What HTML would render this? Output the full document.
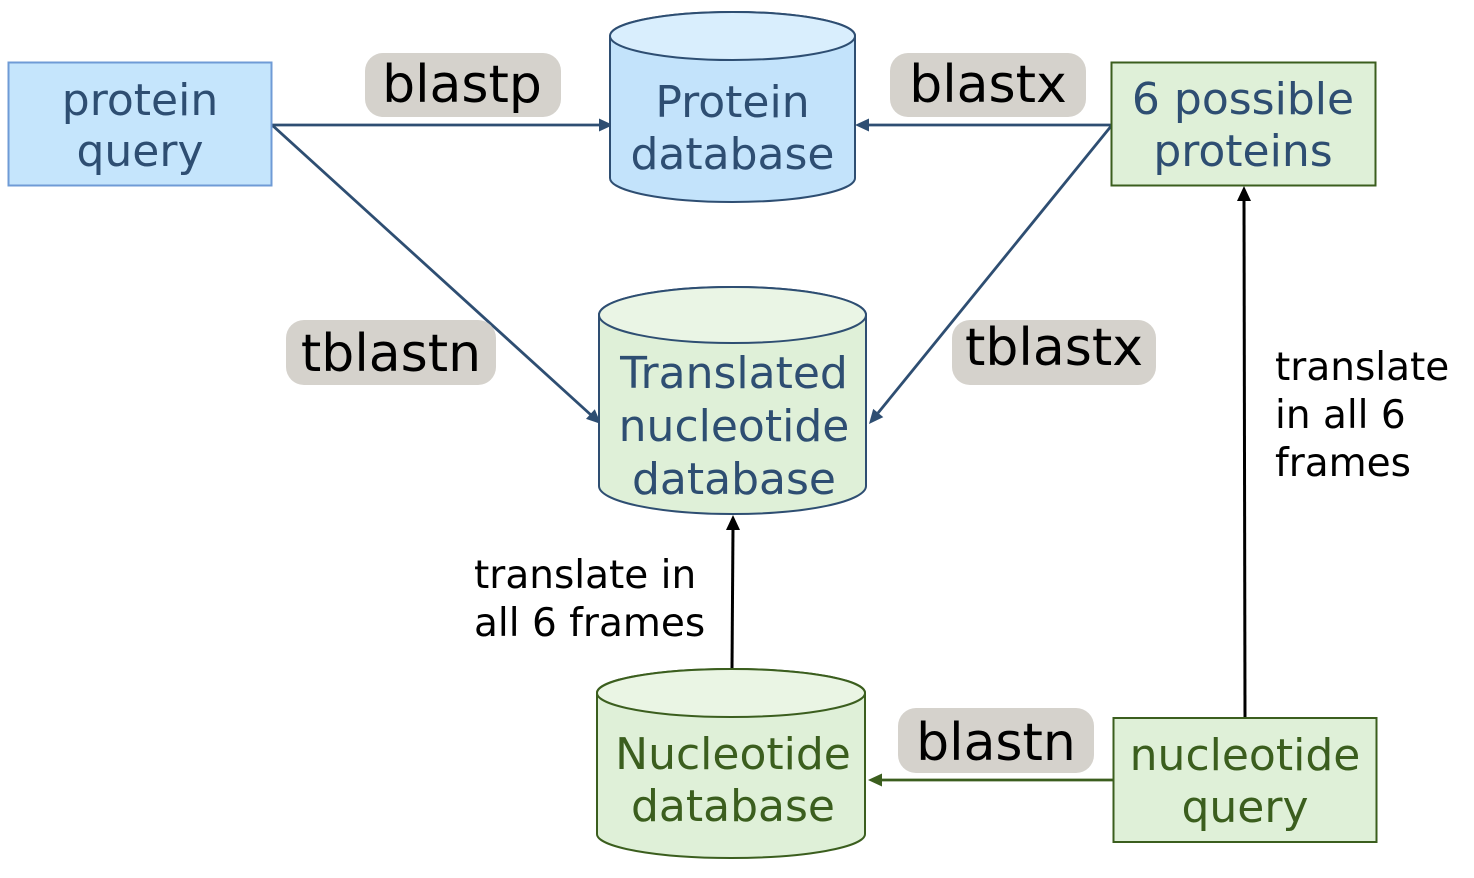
<!DOCTYPE html>
<html>
<head>
<meta charset="utf-8">
<style>
html,body{margin:0;padding:0;background:#ffffff;}
svg{display:block;}
.node{font-family:"DejaVu Sans","Liberation Sans",sans-serif;font-size:44px;text-anchor:middle;}
.lbl{font-family:"DejaVu Sans","Liberation Sans",sans-serif;font-size:52px;text-anchor:middle;fill:#000;}
.tr{font-family:"DejaVu Sans","Liberation Sans",sans-serif;font-size:39px;fill:#000;}
</style>
</head>
<body>
<svg width="1474" height="878" viewBox="0 0 1474 878" xmlns="http://www.w3.org/2000/svg">
  <rect x="0" y="0" width="1474" height="878" fill="#ffffff"/>

  <!-- connectors -->
  <line x1="272" y1="125" x2="600" y2="125" stroke="#2e4e72" stroke-width="2.8"/>
  <polygon points="613,125 599,118.5 599,131.5" fill="#2e4e72"/>
  <line x1="1112" y1="125" x2="868" y2="125" stroke="#2e4e72" stroke-width="2.8"/>
  <polygon points="855,125 869,118.5 869,131.5" fill="#2e4e72"/>
  <line x1="272" y1="125" x2="591" y2="415" stroke="#2e4e72" stroke-width="2.8"/>
  <polygon points="601,424 586,418.9 594.8,409.2" fill="#2e4e72"/>
  <line x1="1112" y1="125" x2="878" y2="413" stroke="#2e4e72" stroke-width="2.8"/>
  <polygon points="869,424 873.2,408.9 883.3,417.1" fill="#2e4e72"/>
  <line x1="732" y1="669" x2="733" y2="527" stroke="#000" stroke-width="3"/>
  <polygon points="733,515 726,530 740,530" fill="#000"/>
  <line x1="1245" y1="718" x2="1244" y2="199" stroke="#000" stroke-width="3"/>
  <polygon points="1244,186 1237,201 1251,201" fill="#000"/>
  <line x1="1113" y1="780" x2="881" y2="780" stroke="#3b5e1e" stroke-width="2.8"/>
  <polygon points="868,780 882,773.5 882,786.5" fill="#3b5e1e"/>

  <!-- protein query -->
  <rect x="8.5" y="62.5" width="263" height="123" fill="#c5e5fc" stroke="#6f9bd6" stroke-width="2"/>
  <text class="node" x="140" y="115" fill="#2e4e72">protein</text>
  <text class="node" x="140" y="166" fill="#2e4e72">query</text>

  <!-- Protein database cylinder -->
  <path d="M610,36 L610,178 A122.5,24 0 0 0 855,178 L855,36 A122.5,24 0 0 0 610,36 Z" fill="#c3e3fb" stroke="#2e4e72" stroke-width="2"/>
  <ellipse cx="732.5" cy="36" rx="122.5" ry="24" fill="#d9eefd" stroke="#2e4e72" stroke-width="2"/>
  <text class="node" x="732.5" y="117" fill="#2e4e72">Protein</text>
  <text class="node" x="732.5" y="169" fill="#2e4e72">database</text>

  <!-- 6 possible proteins -->
  <rect x="1111.5" y="62.5" width="264" height="123" fill="#dff0d8" stroke="#3b5e1e" stroke-width="2"/>
  <text class="node" x="1243" y="114" fill="#2e4e72">6 possible</text>
  <text class="node" x="1243" y="166" fill="#2e4e72">proteins</text>

  <!-- Translated nucleotide database -->
  <path d="M599,315 L599,486 A133.5,28 0 0 0 866,486 L866,315 A133.5,28 0 0 0 599,315 Z" fill="#dff0d8" stroke="#2e4e72" stroke-width="2"/>
  <ellipse cx="732.5" cy="315" rx="133.5" ry="28" fill="#eaf5e5" stroke="#2e4e72" stroke-width="2"/>
  <text class="node" x="734" y="388" fill="#2e4e72">Translated</text>
  <text class="node" x="734" y="441" fill="#2e4e72">nucleotide</text>
  <text class="node" x="734" y="494" fill="#2e4e72">database</text>

  <!-- Nucleotide database -->
  <path d="M597,693 L597,834 A134,24 0 0 0 865,834 L865,693 A134,24 0 0 0 597,693 Z" fill="#dff0d8" stroke="#3b5e1e" stroke-width="2"/>
  <ellipse cx="731" cy="693" rx="134" ry="24" fill="#eaf5e4" stroke="#3b5e1e" stroke-width="2"/>
  <text class="node" x="733" y="769" fill="#3b5e1e">Nucleotide</text>
  <text class="node" x="733" y="821" fill="#3b5e1e">database</text>

  <!-- nucleotide query -->
  <rect x="1113.5" y="718" width="263" height="124" fill="#dff0d8" stroke="#3b5e1e" stroke-width="2"/>
  <text class="node" x="1245" y="770" fill="#3b5e1e">nucleotide</text>
  <text class="node" x="1245" y="822" fill="#3b5e1e">query</text>

  <!-- labels -->
  <rect x="365" y="53" width="196" height="64" rx="18" fill="#d5d2cc"/>
  <text class="lbl" x="462" y="102">blastp</text>

  <rect x="890" y="53" width="196" height="64" rx="18" fill="#d5d2cc"/>
  <text class="lbl" x="988" y="102">blastx</text>

  <rect x="286" y="320" width="210" height="65" rx="18" fill="#d5d2cc"/>
  <text class="lbl" x="391" y="371">tblastn</text>

  <rect x="952" y="320" width="204" height="65" rx="18" fill="#d5d2cc"/>
  <text class="lbl" x="1054" y="365">tblastx</text>

  <rect x="898" y="708" width="196" height="65" rx="18" fill="#d5d2cc"/>
  <text class="lbl" x="996" y="760">blastn</text>

  <!-- translate texts -->
  <text class="tr" x="474" y="588">translate in</text>
  <text class="tr" x="474" y="636">all 6 frames</text>

  <text class="tr" x="1275" y="380">translate</text>
  <text class="tr" x="1275" y="428">in all 6</text>
  <text class="tr" x="1275" y="476">frames</text>
</svg>
</body>
</html>
